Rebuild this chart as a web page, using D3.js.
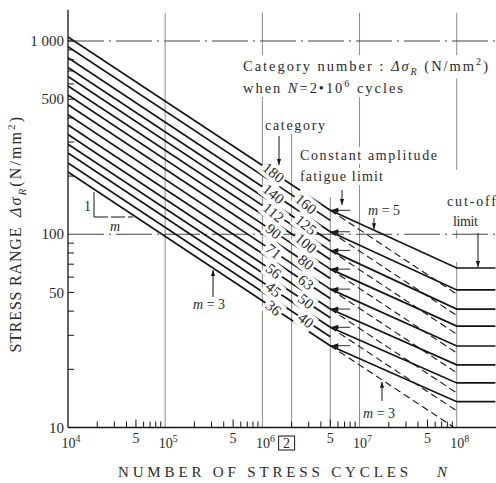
<!DOCTYPE html>
<html>
<head>
<meta charset="utf-8">
<script src="https://cdn.jsdelivr.net/npm/d3@7"></script>
<style>
  body { margin: 0; background: #fff; }
  svg { display: block; font-family: "Liberation Serif", "DejaVu Serif", serif; }
</style>
</head>
<body>
<svg id="chart" width="496" height="483"></svg>
<script>
// S-N lines, m = 3 part (read at N = 1e4 and at the knee N = 5e6)
const categories  = [180, 160, 140, 125, 112, 100, 90, 80, 71, 63, 56, 50, 45, 40, 36];
const stressAt1e4 = [1050, 935, 820, 730, 655, 585, 525, 468, 415, 368, 328, 292, 263, 234, 210];
const stressAt5e6 = [133, 118, 103, 92, 82.5, 74, 66, 59, 52, 46.5, 41, 37, 33, 29.5, 26.5];

// lines that go on past the knee: m = 5 to 1e8, then the cut-off
const longCategories = [180, 140, 112, 90, 71, 56, 45, 36];
const kneeStress     = [133, 103, 82.5, 66, 52, 41, 33, 26.5];
const cutoffStress   = [66.9, 51.5, 41, 33.5, 26.4, 21.1, 17, 13.6];
// dashed m = 3 continuation, value at N = 1e8
const dashedEndStress = [49, 38, 30.4, 24.3, 19.2, 15.1, 12.2, 9.8];

const leftLabels  = [180, 140, 112, 90, 71, 56, 45, 36];
const rightLabels = [160, 125, 100, 80, 63, 50, 40];

const yTickLabels = [[10, "10"], [50, "50"], [100, "100"], [500, "500"], [1000, "1 000"]];
const yMinorTicks = [20, 30, 40, 50, 60, 70, 80, 90, 200, 300, 400, 500, 600, 700, 800, 900, 1000];
const xDecades = [4, 5, 6, 7, 8];
const xFiveLabels = [5e4, 5e5, 5e6, 5e7];

const N_START = 1e4, N_KNEE = 5e6, N_CUT = 1e8, N_END = 2.5e8;

const svg = d3.select("#chart");
const x = d3.scaleLog().domain([N_START, N_END]).range([68, 495.4]);
const y = d3.scaleLog().domain([10, 1450]).range([427.5, 9.8]);
const line = d3.line().x(d => x(d[0])).y(d => y(d[1]));

const ink = "#151515", grid = "#8c8c8c";

const defs = svg.append("defs");
defs.append("clipPath").attr("id", "plot")
  .append("rect").attr("x", x(N_START)).attr("y", 0)
  .attr("width", 496 - x(N_START)).attr("height", y(10));
defs.append("marker").attr("id", "arr")
  .attr("viewBox", "0 0 10 10").attr("refX", 10).attr("refY", 5)
  .attr("markerWidth", 6).attr("markerHeight", 6).attr("orient", "auto")
  .append("path").attr("d", "M0,1.5L10,5L0,8.5Z").attr("fill", ink);

// rich text helper: parts are strings or {t, i, sub, sup}
function rich(g, parts, size) {
  const t = g.append("text").attr("font-size", size).attr("fill", "#2a2a2a");
  let shift = 0;
  parts.forEach(p => {
    const s = typeof p === "string" ? { t: p } : p;
    const want = s.sub ? size * 0.3 : s.sup ? -size * 0.4 : 0;
    const ts = t.append("tspan").text(s.t).attr("dy", want - shift);
    shift = want;
    if (s.sub || s.sup) ts.attr("font-size", size * 0.7);
    if (s.i) ts.attr("font-style", "italic");
  });
  return t;
}
function note(parent, px, py, parts, size, opt = {}) {
  const g = parent.append("g").attr("transform", `translate(${px},${py})` + (opt.rotate ? ` rotate(${opt.rotate})` : ""));
  const t = rich(g, parts, size).attr("text-anchor", opt.anchor || "start");
  if (opt.dy) t.attr("y", opt.dy);
  if (opt.len) t.attr("textLength", opt.len).attr("lengthAdjust", "spacing");
  if (opt.bg !== false) {
    const b = t.node().getBBox();
    g.insert("rect", "text").attr("x", b.x - 2).attr("y", b.y - 1)
      .attr("width", b.width + 4).attr("height", b.height + 2).attr("fill", "#fff");
  }
  return g;
}
function arrow(x1, y1, x2, y2) {
  svg.append("line").attr("x1", x1).attr("y1", y1).attr("x2", x2).attr("y2", y2)
    .attr("stroke", ink).attr("stroke-width", 1).attr("marker-end", "url(#arr)");
}

// grid lines
const vGrid = [
  { n: 1e5, segs: [[10, 1400]] },
  { n: 1e6, segs: [[10, 1400]] },
  { n: 2e6, segs: [[10, 340]] },
  { n: 5e6, segs: [[10, 156]] },
  { n: 1e7, segs: [[10, 1400]] },
  { n: 1e8, segs: [[10, 72], [95, 105], [215, 1400]] }
];
const gridG = svg.append("g");
vGrid.forEach(v => v.segs.forEach(s => {
  gridG.append("line").attr("x1", x(v.n)).attr("x2", x(v.n))
    .attr("y1", y(s[0])).attr("y2", y(s[1]))
    .attr("stroke", grid).attr("stroke-width", 1);
}));
[1000, 100].forEach(v => {
  gridG.append("line").attr("x1", x(N_START)).attr("x2", 496)
    .attr("y1", y(v)).attr("y2", y(v))
    .attr("stroke", "#444").attr("stroke-width", 1).attr("stroke-dasharray", "36,5,2,5");
});

// axes
svg.append("line").attr("x1", x(N_START)).attr("x2", x(N_START))
  .attr("y1", y(10)).attr("y2", y(1450)).attr("stroke", ink).attr("stroke-width", 1.3);
svg.append("line").attr("x1", x(N_START)).attr("x2", 496)
  .attr("y1", y(10)).attr("y2", y(10)).attr("stroke", ink).attr("stroke-width", 1.3);
yMinorTicks.forEach(v => {
  svg.append("line").attr("x1", x(N_START)).attr("x2", x(N_START) + 6)
    .attr("y1", y(v)).attr("y2", y(v)).attr("stroke", ink);
});
xDecades.slice(0, -1).forEach(k => {
  d3.range(2, 10).forEach(d => {
    const n = d * Math.pow(10, k);
    svg.append("line").attr("x1", x(n)).attr("x2", x(n))
      .attr("y1", y(10)).attr("y2", y(10) - (d === 5 ? 8 : 6)).attr("stroke", ink);
  });
});
yTickLabels.forEach(([v, s]) => {
  svg.append("text").attr("x", x(N_START) - 4).attr("y", y(v)).attr("dy", "0.35em")
    .attr("text-anchor", "end").attr("font-size", 15).attr("fill", "#2a2a2a").text(s);
});
xDecades.forEach(k => {
  note(svg, x(Math.pow(10, k)) + 3, 448, ["10", { t: String(k), sup: true }], 14, { anchor: "middle", bg: false });
});
xFiveLabels.forEach(n => {
  note(svg, x(n), 443, ["5"], 14, { anchor: "middle", bg: false });
});
const box = note(svg, x(2e6) - 5, 448, ["2"], 14, { anchor: "middle", bg: false });
box.append("rect").attr("x", -8).attr("y", -12).attr("width", 16).attr("height", 14)
  .attr("fill", "none").attr("stroke", ink);

// axis titles
note(svg, 118, 477, ["NUMBER OF STRESS CYCLES"], 15, { len: 290, bg: false });
note(svg, 437, 477, [{ t: "N", i: true }], 15, { bg: false });
note(svg, 21, 290, ["STRESS RANGE"], 16, { rotate: -90, anchor: "middle", len: 125, bg: false });
note(svg, 21, 167, [{ t: "Δσ", i: true }, { t: "R", sub: true, i: true }, "(N/mm", { t: "2", sup: true }, ")"], 16,
  { rotate: -90, anchor: "middle", len: 100, bg: false });

// curves
const curves = svg.append("g").attr("clip-path", "url(#plot)");
categories.forEach((c, i) => {
  curves.append("path").attr("d", line([[N_START, stressAt1e4[i]], [N_KNEE, stressAt5e6[i]]]))
    .attr("fill", "none").attr("stroke", ink).attr("stroke-width", 1.7);
});
longCategories.forEach((c, i) => {
  curves.append("path").attr("d", line([[N_KNEE, kneeStress[i]], [N_CUT, cutoffStress[i]], [N_END, cutoffStress[i]]]))
    .attr("fill", "none").attr("stroke", ink).attr("stroke-width", 1.7);
  curves.append("path").attr("d", line([[N_KNEE, kneeStress[i]], [N_CUT, dashedEndStress[i]]]))
    .attr("fill", "none").attr("stroke", ink).attr("stroke-width", 1.1).attr("stroke-dasharray", "7,4");
  curves.append("line").attr("x1", x(N_KNEE)).attr("x2", x(8e6))
    .attr("y1", y(kneeStress[i])).attr("y2", y(kneeStress[i])).attr("stroke", ink).attr("stroke-width", 0.9);
  const kx = x(N_KNEE) + 1, ky = y(kneeStress[i]);
  curves.append("path").attr("d", `M${kx},${ky}l7,-2.5l0,5Z`).attr("fill", ink);
});

// category labels on the m = 3 lines
function onLine(c, n) {
  const i = categories.indexOf(c);
  const t = Math.log(n / N_START) / Math.log(N_KNEE / N_START);
  return Math.exp(Math.log(stressAt1e4[i]) + t * (Math.log(stressAt5e6[i]) - Math.log(stressAt1e4[i])));
}
const slope = Math.atan2(y(stressAt5e6[0]) - y(stressAt1e4[0]), x(N_KNEE) - x(N_START)) * 180 / Math.PI;
leftLabels.forEach(c => {
  const n = 1.3e6;
  note(svg, x(n), y(onLine(c, n)), [String(c)], 15, { rotate: slope + 6, anchor: "middle", dy: 5 });
});
rightLabels.forEach(c => {
  const n = 2.8e6;
  note(svg, x(n), y(onLine(c, n)), [String(c)], 15, { rotate: slope + 6, anchor: "middle", dy: 5 });
});

// annotations
note(svg, 243, 71, ["Category number : ", { t: "Δσ", i: true }, { t: "R", sub: true, i: true }, " (N/mm", { t: "2", sup: true }, ")"], 14.5, { len: 245 });
note(svg, 243, 93, ["when ", { t: "N", i: true }, "=2•10", { t: "6", sup: true }, " cycles"], 14.5, { len: 160 });
note(svg, 265, 130, ["category"], 14, { len: 60 });
note(svg, 300, 160, ["Constant amplitude"], 14, { len: 137 });
note(svg, 300, 181, ["fatigue limit"], 14, { len: 83 });
note(svg, 368, 215, [{ t: "m", i: true }, " = 5"], 14);
note(svg, 447, 206, ["cut-off"], 14, { len: 49 });
note(svg, 453, 226, ["limit"], 14, { len: 25 });
note(svg, 193, 309, [{ t: "m", i: true }, " = 3"], 14);
note(svg, 363, 418, [{ t: "m", i: true }, " = 3"], 14);
note(svg, 84, 211, ["1"], 14, { bg: false });
note(svg, 110, 231, [{ t: "m", i: true }], 14, { bg: false });
svg.append("line").attr("x1", 94).attr("x2", 94).attr("y1", 192).attr("y2", 217).attr("stroke", ink);
svg.append("line").attr("x1", 94).attr("x2", 133).attr("y1", 217).attr("y2", 217)
  .attr("stroke", ink).attr("stroke-dasharray", "14,3");

arrow(279, 136, 279, 165);
arrow(342, 190, 342, 205);
function longAt(i, n) {
  const t = Math.log(n / N_KNEE) / Math.log(N_CUT / N_KNEE);
  return Math.exp(Math.log(kneeStress[i]) + t * (Math.log(cutoffStress[i]) - Math.log(kneeStress[i])));
}
function dashAt(i, n) {
  const t = Math.log(n / N_KNEE) / Math.log(N_CUT / N_KNEE);
  return Math.exp(Math.log(kneeStress[i]) + t * (Math.log(dashedEndStress[i]) - Math.log(kneeStress[i])));
}
arrow(374, 218, 374, y(longAt(0, x.invert(374))) - 1);
arrow(478, 233, 478, y(cutoffStress[0]) - 1);
arrow(213, 297, 213, y(onLine(36, x.invert(213))) + 2);
arrow(382, 401, 382, y(dashAt(7, x.invert(382))) + 2);
</script>
</body>
</html>
